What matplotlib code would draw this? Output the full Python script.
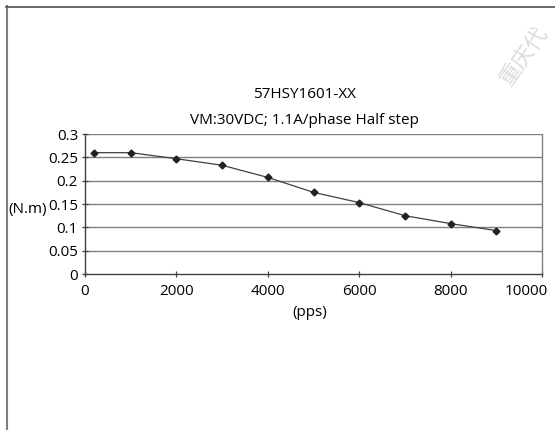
import matplotlib.pyplot as plt
from matplotlib.lines import Line2D
from matplotlib.transforms import ScaledTranslation

# Данные кривой момента
speed_pps = [200, 1000, 2000, 3000, 4000, 5000, 6000, 7000, 8000, 9000]
torque_nm = [0.26, 0.26, 0.247, 0.233, 0.207, 0.175, 0.153, 0.125, 0.108, 0.093]
x_ticks = [0, 2000, 4000, 6000, 8000, 10000]
y_ticks = [0, 0.05, 0.1, 0.15, 0.2, 0.25, 0.3]
y_tick_labels = ['0', '0.05', '0.1', '0.15', '0.2', '0.25', '0.3']

plt.rcParams['font.family'] = ['Open Sans', 'DejaVu Sans']

fig = plt.figure(figsize=(5.55, 4.3), dpi=100)
ax = fig.add_axes([85 / 555, 1 - 274 / 430, 457 / 555, 140 / 430])

# Сетка
for yv in y_ticks[1:]:
    ax.axhline(yv, color='#7f7f7f', linewidth=1.0, zorder=1)

ax.plot(speed_pps, torque_nm, color='#404040', linewidth=0.9,
        marker='D', markersize=3.5, markerfacecolor='#222222',
        markeredgecolor='#222222', zorder=3)

ax.set_xlim(0, 10000)
ax.set_ylim(0, 0.3)
ax.set_xticks(x_ticks)
ax.set_yticks(y_ticks)
ax.set_yticklabels(y_tick_labels)
ax.tick_params(axis='both', labelsize=11, length=4, width=0.9,
               color='#404040', direction='inout')
ax.tick_params(axis='x', pad=5)
ax.tick_params(axis='y', pad=3)

# последняя подпись сдвинута внутрь, как в оригинале
last = ax.get_xticklabels()[-1]
last.set_horizontalalignment('right')
last.set_transform(last.get_transform() + ScaledTranslation(6 / 100, 0, fig.dpi_scale_trans))

for side in ['left', 'bottom']:
    ax.spines[side].set_color('#404040')
    ax.spines[side].set_linewidth(1.0)
ax.spines['top'].set_visible(False)
ax.spines['right'].set_color('#7f7f7f')
ax.spines['right'].set_linewidth(1.0)

# Подписи
fig.text(304 / 555, 1 - 94 / 430, '57HSY1601-XX', ha='center', va='center', fontsize=11)
fig.text(304 / 555, 1 - 121 / 430, 'VM:30VDC; 1.1A/phase Half step',
         ha='center', va='center', fontsize=11)
fig.text(28 / 555, 1 - 210 / 430, '(N.m)', ha='center', va='center', fontsize=11)
fig.text(310 / 555, 1 - 313 / 430, '(pps)', ha='center', va='center', fontsize=11)

# Водяной знак
fig.text(524 / 555, 1 - 56 / 430, '重庆代', fontsize=16, rotation=55,
         ha='center', va='center', color='#dcdcdc',
         family=['Noto Sans CJK SC', 'DejaVu Sans'])

# Рамка
fig.add_artist(Line2D([6.5 / 555, 6.5 / 555], [0, 1 - 6 / 430],
                      transform=fig.transFigure, color='#808080', linewidth=1.5))
fig.add_artist(Line2D([6 / 555, 1], [1 - 6.5 / 430, 1 - 6.5 / 430],
                      transform=fig.transFigure, color='#505050', linewidth=1.2))

fig.savefig('out.png', dpi=100)
